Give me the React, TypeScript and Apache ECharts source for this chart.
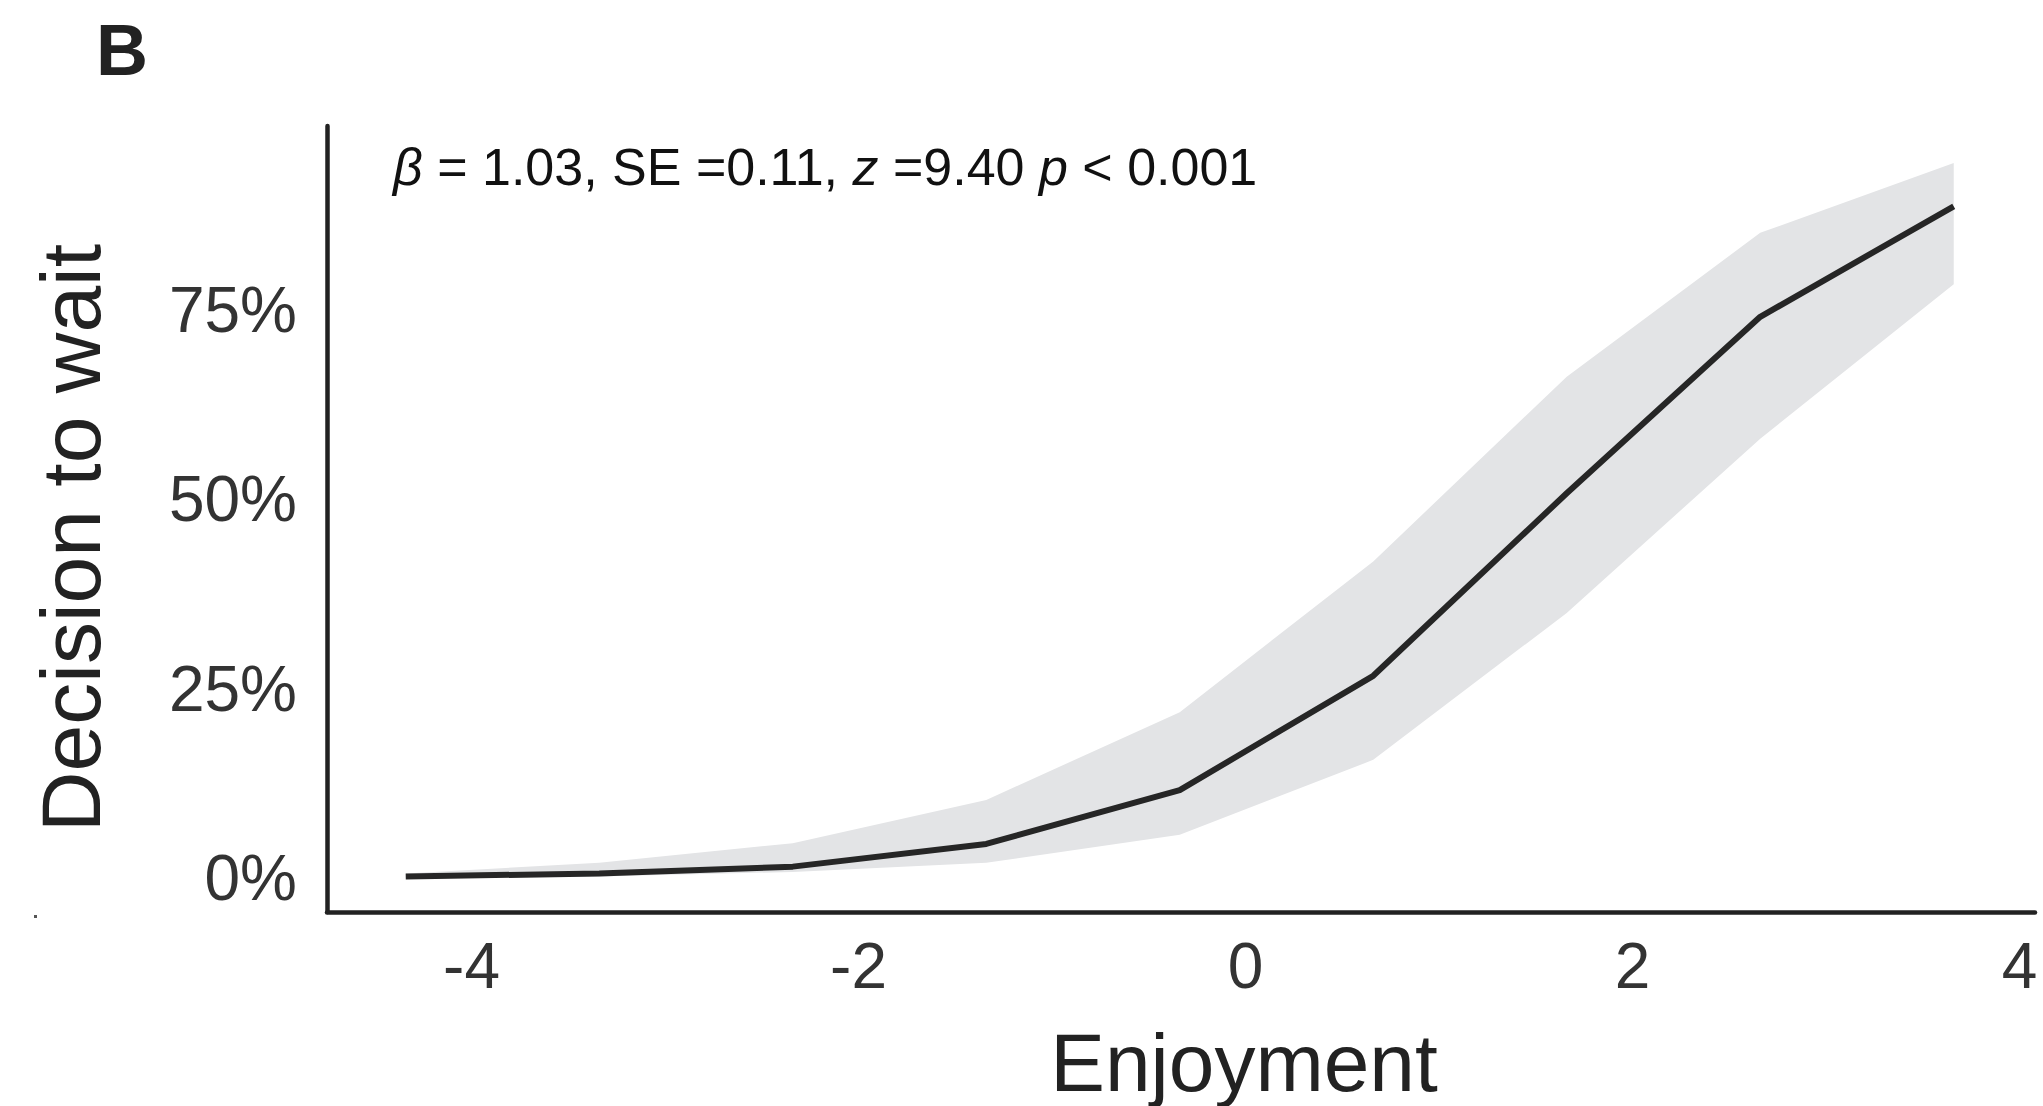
import React, { useEffect, useRef } from "react";
import * as echarts from "echarts";

// Enjoyment (centred) values at which the model was evaluated
const enjoyment = [-4.34, -3.34, -2.34, -1.34, -0.34, 0.66, 1.66, 2.66, 3.66];
// Predicted probability of deciding to wait (%)
const fitted = [0.2, 0.6, 1.5, 4.5, 11.6, 26.7, 50.8, 74.1, 88.7];
// 95% confidence band (%)
const upperCI = [0.6, 2.0, 4.6, 10.3, 21.9, 41.8, 66.2, 85.2, 94.4];
const lowerCI = [0.05, 0.2, 0.8, 2.0, 5.7, 15.6, 35.0, 58.0, 78.4];

const xTicks = [-4, -2, 0, 2, 4];
const yTicks = [0, 25, 50, 75];

const FONT = "'Liberation Sans', Arial, Helvetica, sans-serif";

export default function App() {
  const ref = useRef<HTMLDivElement>(null);

  useEffect(() => {
    if (!ref.current) return;
    const chart = echarts.init(ref.current, null, { renderer: "svg" });

    const bandData = enjoyment.map((x, i) => [x, lowerCI[i], upperCI[i]]);
    const lineData = enjoyment.map((x, i) => [x, fitted[i]]);

    chart.setOption({
      animation: false,
      backgroundColor: "#ffffff",
      grid: { left: 327, right: 8, top: 126, bottom: 194, containLabel: false },
      xAxis: {
        type: "value",
        min: -4.747,
        max: 4.08,
        splitLine: { show: false },
        axisTick: { show: false },
        axisLine: { show: true, onZero: false, lineStyle: { color: "#222222", width: 4.5 } },
        axisLabel: {
          customValues: xTicks,
          showMinLabel: true,
          showMaxLabel: true,
          margin: 22,
          fontSize: 64,
          fontFamily: FONT,
          color: "#333333",
          formatter: (v: number) => String(v),
        },
      },
      yAxis: {
        type: "value",
        min: -4.49,
        max: 99.3,
        splitLine: { show: false },
        axisTick: { show: false },
        axisLine: { show: true, onZero: false, lineStyle: { color: "#222222", width: 4.5 } },
        axisLabel: {
          customValues: yTicks,
          margin: 30,
          fontSize: 64,
          fontFamily: FONT,
          color: "#333333",
          formatter: (v: number) => `${v}%`,
        },
      },
      series: [
        {
          type: "custom",
          data: bandData,
          encode: { x: 0, y: [1, 2] },
          silent: true,
          z: 1,
          renderItem: (params: any, api: any) => {
            if (params.dataIndex !== 0) return null;
            const pts: number[][] = [];
            for (let i = 0; i < enjoyment.length; i++) {
              pts.push(api.coord([enjoyment[i], upperCI[i]]));
            }
            for (let i = enjoyment.length - 1; i >= 0; i--) {
              pts.push(api.coord([enjoyment[i], lowerCI[i]]));
            }
            return {
              type: "polygon",
              shape: { points: pts },
              style: { fill: "#e3e4e6", stroke: "none" },
            };
          },
        },
        {
          type: "line",
          data: lineData,
          symbol: "none",
          lineStyle: { color: "#262626", width: 6 },
          z: 3,
        },
      ],
      graphic: [
        {
          type: "text",
          x: 122,
          y: 50,
          style: {
            text: "B",
            fontSize: 72,
            fontWeight: "bold",
            fontFamily: FONT,
            fill: "#222222",
            align: "center",
            verticalAlign: "middle",
          },
        },
        {
          type: "text",
          x: 393,
          y: 167,
          style: {
            text: "{i|β} = 1.03, SE =0.11, {i|z} =9.40 {i|p} < 0.001",
            fontSize: 52,
            fontFamily: FONT,
            fill: "#111111",
            align: "left",
            verticalAlign: "middle",
            rich: {
              i: { fontStyle: "italic", fontSize: 52, fontFamily: FONT, fill: "#111111" },
            },
          },
        },
        {
          type: "text",
          x: 71,
          y: 538,
          rotation: Math.PI / 2,
          style: {
            text: "Decision to wait",
            fontSize: 84,
            fontFamily: FONT,
            fill: "#222222",
            align: "center",
            verticalAlign: "middle",
          },
        },
        {
          type: "text",
          x: 1244,
          y: 1062,
          style: {
            text: "Enjoyment",
            fontSize: 82,
            fontFamily: FONT,
            fill: "#222222",
            align: "center",
            verticalAlign: "middle",
          },
        },
        {
          type: "rect",
          shape: { x: 34, y: 915, width: 3, height: 3 },
          style: { fill: "#555555" },
        },
      ],
    });

    return () => chart.dispose();
  }, []);

  return (
    <div
      ref={ref}
      style={{ position: "fixed", left: 0, top: 0, width: 2043, height: 1106 }}
    />
  );
}
